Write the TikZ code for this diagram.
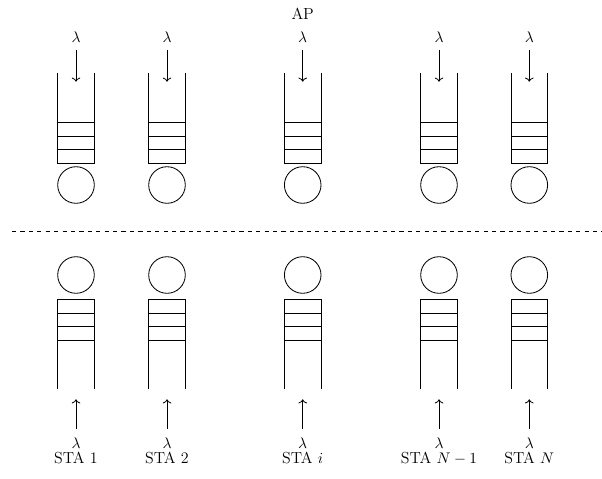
\documentclass[tikz,border=0pt]{standalone}
\usetikzlibrary{arrows.meta}
\begin{document}
\begin{tikzpicture}[x=0.7125pt,y=-0.7125pt,
  every node/.style={font=\fontsize{11.4}{13.5}\selectfont},
  server/.style={draw,line width=0.6pt,circle,minimum size=36.6*0.7125pt,inner sep=0pt},
  lbl/.style={inner sep=1pt},
  wall/.style={line width=0.6pt},
  feed/.style={->,line width=0.6pt}]
\useasboundingbox (0,0) rectangle (602,479);
\node[lbl] (ap) at (302.7,13.5) {AP};
\draw[dashed,line width=0.6pt] (12,231.5) -- (602,231.5);
\foreach \k/\cx/\name in {1/76/{STA 1},2/167/{STA 2},3/302.7/{STA $i$},4/439/{STA $N-1$},5/529.3/{STA $N$}}{
  % AP side (top)
  \node[lbl] (lt\k) at (\cx,37) {$\lambda$};
  \coordinate (et\k) at (\cx,81.7);
  \draw[feed,shorten <=4.2pt] (lt\k) -- (et\k);
  \draw[wall] (\cx-18.3,73) -- (\cx-18.3,163.3) -- (\cx+18.3,163.3) -- (\cx+18.3,73);
  \draw[wall] (\cx-18.3,122.3) -- (\cx+18.3,122.3)
              (\cx-18.3,136.3) -- (\cx+18.3,136.3)
              (\cx-18.3,149.8) -- (\cx+18.3,149.8);
  \node[server] (st\k) at (\cx,185) {};
  % STA side (bottom)
  \node[server] (sb\k) at (\cx,275) {};
  \draw[wall] (\cx-18.3,389) -- (\cx-18.3,299.3) -- (\cx+18.3,299.3) -- (\cx+18.3,389);
  \draw[wall] (\cx-18.3,313) -- (\cx+18.3,313)
              (\cx-18.3,326.7) -- (\cx+18.3,326.7)
              (\cx-18.3,340.2) -- (\cx+18.3,340.2);
  \node[lbl] (lb\k) at (\cx,443.5) {$\lambda$};
  \coordinate (eb\k) at (\cx,399.3);
  \draw[feed,shorten <=5.3pt] (lb\k) -- (eb\k);
  \node[lbl] (sta\k) at (\cx,458) {\name};
}
\end{tikzpicture}
\end{document}
